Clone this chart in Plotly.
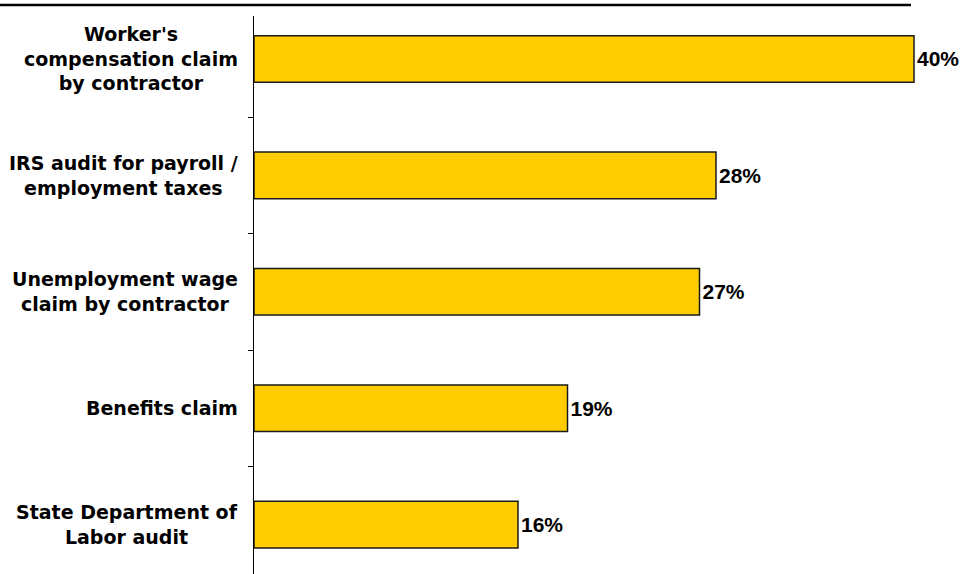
import plotly.graph_objects as go

# Reasons / triggers for misclassification findings
categories = [
    "Worker's<br>compensation claim<br>by contractor",
    "IRS audit for payroll /<br>employment taxes",
    "Unemployment wage<br>claim by contractor",
    "Benefits claim",
    "State Department of<br>Labor audit",
]
values = [40, 28, 27, 19, 16]
value_labels = [f"{v}%" for v in values]

W, H = 972, 574
left, right, top, bottom = 254, 18, 16, 0
plot_w = W - left - right
plot_h = H - top - bottom
px_per_pct = 16.5

fig = go.Figure()
fig.add_trace(go.Bar(
    y=list(range(len(categories))),
    x=values,
    orientation="h",
    width=0.4,
    marker=dict(color="#FFCC00", line=dict(color="#1a1a1a", width=1.5)),
    text=value_labels,
    textposition="outside",
    textfont=dict(family="Liberation Sans", size=21, color="#000000", weight="bold"),
    cliponaxis=False,
    hoverinfo="skip",
))

# Category labels as centred multi-line text blocks to the left of the axis
label_x = (240 - left) / plot_w
for i, c in enumerate(categories):
    fig.add_annotation(
        x=label_x, xref="paper", y=i, yref="y",
        text=c, showarrow=False, xanchor="right", yanchor="middle",
        align="center",
        font=dict(family="DejaVu Sans", size=19, color="#000000", weight="bold"),
    )

# Rule across the top of the chart
y_rule = (H - 5 - bottom) / plot_h
fig.add_shape(type="line", xref="paper", yref="paper",
              x0=(0 - left) / plot_w, x1=(911 - left) / plot_w,
              y0=y_rule, y1=y_rule, line=dict(color="#000000", width=2.5))

fig.update_layout(
    width=W, height=H,
    margin=dict(l=left, r=right, t=top, b=bottom, pad=0),
    paper_bgcolor="#ffffff", plot_bgcolor="#ffffff",
    showlegend=False,
    xaxis=dict(range=[0, plot_w / px_per_pct], visible=False, fixedrange=True),
    yaxis=dict(
        type="linear",
        range=[4.424, -0.369],
        showline=True, linecolor="#000000", linewidth=1,
        showgrid=False, zeroline=False,
        tickmode="array", tickvals=[0.5, 1.5, 2.5, 3.5],
        ticks="outside", ticklen=5, tickcolor="#000000", tickwidth=1,
        showticklabels=False,
    ),
)

fig.write_html("out.html")
